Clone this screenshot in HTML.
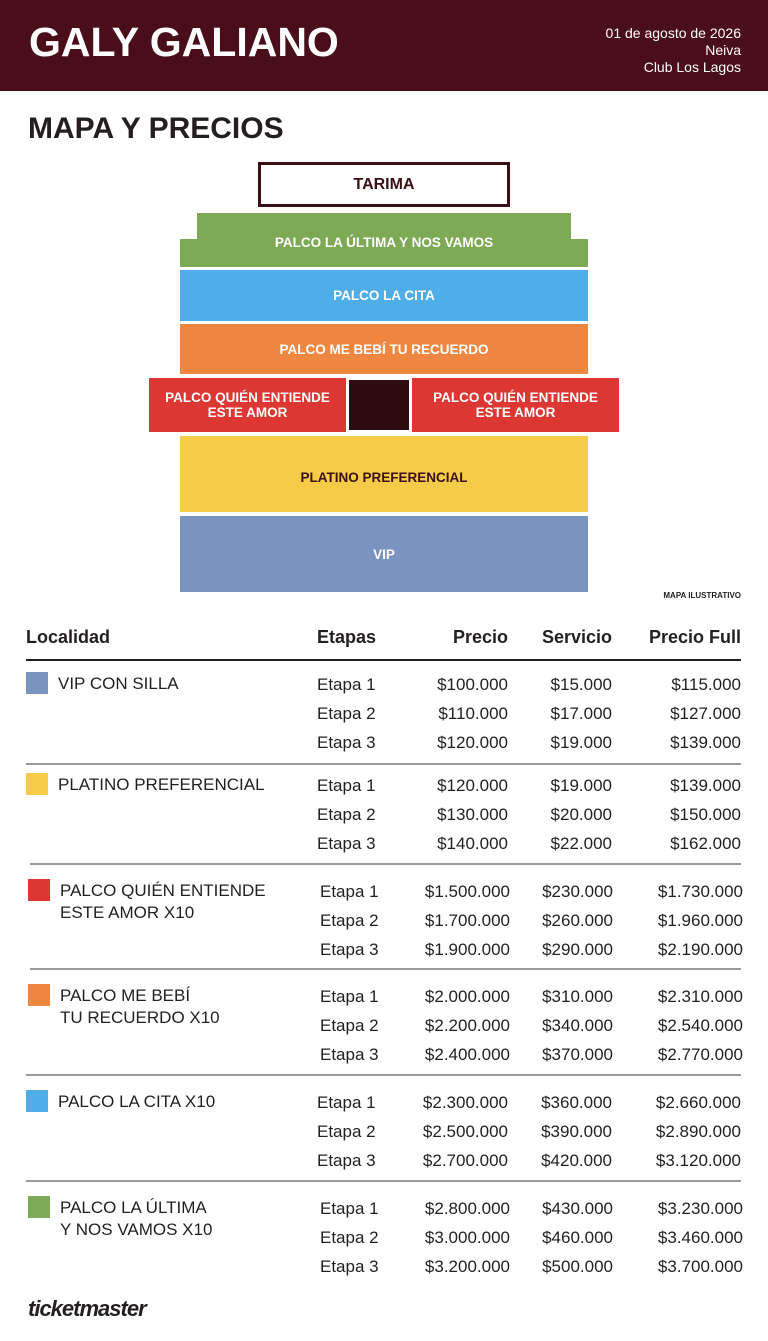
<!DOCTYPE html>
<html><head><meta charset="utf-8"><style>
*{margin:0;padding:0;box-sizing:border-box}
body{width:768px;height:1341px;background:#fff;position:relative;font-family:"Liberation Sans",sans-serif;color:#231f20;overflow:hidden}
.a{position:absolute;white-space:nowrap}
.hd{position:absolute;left:0;top:0;width:768px;height:91px;background:#4a0e1a}
.z{position:absolute;display:flex;align-items:center;justify-content:center;text-align:center;color:#fff;font-weight:bold;font-size:13.5px;line-height:15px}
.t{position:absolute;font-size:17px;line-height:20px;white-space:nowrap}
.r{text-align:right}
.h{font-weight:bold;font-size:18px}
.sq{position:absolute;width:22px;height:22px}
.ln{position:absolute;height:2px;background:#9a9a9a}
</style></head><body>
<div class="hd"></div>
<div class="a" style="left:29px;top:19px;font-size:41px;font-weight:bold;color:#fff">GALY GALIANO</div>
<div class="a r" style="right:27px;top:25px;font-size:14px;line-height:17px;color:#fff;text-align:right">01 de agosto de 2026<br>Neiva<br>Club Los Lagos</div>
<div class="a" style="left:28px;top:112px;font-size:30px;font-weight:bold;color:#231f20">MAPA Y PRECIOS</div>

<div class="a" style="left:258px;top:162px;width:252px;height:45px;border:3px solid #3a0f16;display:flex;align-items:center;justify-content:center;font-weight:bold;font-size:16px;color:#3a0f16">TARIMA</div>
<div class="a" style="left:197px;top:213px;width:374px;height:30px;background:#7eaa56"></div>
<div class="a" style="left:180px;top:239px;width:408px;height:28px;background:#7eaa56"></div>
<div class="z" style="left:180px;top:215px;width:408px;height:54px">PALCO LA ÚLTIMA Y NOS VAMOS</div>
<div class="z" style="left:180px;top:270px;width:408px;height:51px;background:#4faee8">PALCO LA CITA</div>
<div class="z" style="left:180px;top:324px;width:408px;height:50px;background:#ef8741">PALCO ME BEBÍ TU RECUERDO</div>
<div class="z" style="left:149px;top:378px;width:197px;height:54px;background:#dc3732">PALCO QUIÉN ENTIENDE<br>ESTE AMOR</div>
<div class="a" style="left:349px;top:380px;width:60px;height:50px;background:#2e0c12"></div>
<div class="z" style="left:412px;top:378px;width:207px;height:54px;background:#dc3732">PALCO QUIÉN ENTIENDE<br>ESTE AMOR</div>
<div class="z" style="left:180px;top:436px;width:408px;height:76px;background:#f6cb48;color:#3a0f16;padding-top:6px">PLATINO PREFERENCIAL</div>
<div class="z" style="left:180px;top:516px;width:408px;height:76px;background:#7b93bf">VIP</div>
<div class="a" style="right:27px;top:591px;font-size:8px;font-weight:bold">MAPA ILUSTRATIVO</div>

<div class="t h" style="left:26px;top:627px">Localidad</div>
<div class="t h" style="left:317px;top:627px">Etapas</div>
<div class="t h r" style="right:260px;top:627px">Precio</div>
<div class="t h r" style="right:156px;top:627px">Servicio</div>
<div class="t h r" style="right:27px;top:627px">Precio Full</div>
<div class="a" style="left:26px;top:659px;width:715px;height:2px;background:#231f20"></div>

<div class="sq" style="left:26px;top:672px;background:#7b93bf"></div>
<div class="t" style="left:58px;top:674px">VIP CON SILLA</div>
<div class="t" style="left:317px;top:670px;line-height:29px">Etapa 1<br>Etapa 2<br>Etapa 3</div>
<div class="t r" style="right:260px;top:670px;line-height:29px">$100.000<br>$110.000<br>$120.000</div>
<div class="t r" style="right:156px;top:670px;line-height:29px">$15.000<br>$17.000<br>$19.000</div>
<div class="t r" style="right:27px;top:670px;line-height:29px">$115.000<br>$127.000<br>$139.000</div>
<div class="ln" style="left:26px;top:763px;width:715px"></div>

<div class="sq" style="left:26px;top:773px;background:#f6cb48"></div>
<div class="t" style="left:58px;top:775px">PLATINO PREFERENCIAL</div>
<div class="t" style="left:317px;top:771px;line-height:29px">Etapa 1<br>Etapa 2<br>Etapa 3</div>
<div class="t r" style="right:260px;top:771px;line-height:29px">$120.000<br>$130.000<br>$140.000</div>
<div class="t r" style="right:156px;top:771px;line-height:29px">$19.000<br>$20.000<br>$22.000</div>
<div class="t r" style="right:27px;top:771px;line-height:29px">$139.000<br>$150.000<br>$162.000</div>
<div class="ln" style="left:30px;top:863px;width:711px"></div>

<div class="sq" style="left:28px;top:879px;background:#dc3732"></div>
<div class="t" style="left:60px;top:880px;line-height:22px">PALCO QUIÉN ENTIENDE<br>ESTE AMOR X10</div>
<div class="t" style="left:320px;top:877px;line-height:29px">Etapa 1<br>Etapa 2<br>Etapa 3</div>
<div class="t r" style="right:258px;top:877px;line-height:29px">$1.500.000<br>$1.700.000<br>$1.900.000</div>
<div class="t r" style="right:155px;top:877px;line-height:29px">$230.000<br>$260.000<br>$290.000</div>
<div class="t r" style="right:25px;top:877px;line-height:29px">$1.730.000<br>$1.960.000<br>$2.190.000</div>
<div class="ln" style="left:30px;top:968px;width:711px"></div>

<div class="sq" style="left:28px;top:984px;background:#ef8741"></div>
<div class="t" style="left:60px;top:985px;line-height:22px">PALCO ME BEBÍ<br>TU RECUERDO X10</div>
<div class="t" style="left:320px;top:982px;line-height:29px">Etapa 1<br>Etapa 2<br>Etapa 3</div>
<div class="t r" style="right:258px;top:982px;line-height:29px">$2.000.000<br>$2.200.000<br>$2.400.000</div>
<div class="t r" style="right:155px;top:982px;line-height:29px">$310.000<br>$340.000<br>$370.000</div>
<div class="t r" style="right:25px;top:982px;line-height:29px">$2.310.000<br>$2.540.000<br>$2.770.000</div>
<div class="ln" style="left:26px;top:1074px;width:715px"></div>

<div class="sq" style="left:26px;top:1090px;background:#4faee8"></div>
<div class="t" style="left:58px;top:1092px">PALCO LA CITA X10</div>
<div class="t" style="left:317px;top:1088px;line-height:29px">Etapa 1<br>Etapa 2<br>Etapa 3</div>
<div class="t r" style="right:260px;top:1088px;line-height:29px">$2.300.000<br>$2.500.000<br>$2.700.000</div>
<div class="t r" style="right:156px;top:1088px;line-height:29px">$360.000<br>$390.000<br>$420.000</div>
<div class="t r" style="right:27px;top:1088px;line-height:29px">$2.660.000<br>$2.890.000<br>$3.120.000</div>
<div class="ln" style="left:26px;top:1180px;width:715px"></div>

<div class="sq" style="left:28px;top:1196px;background:#7eaa56"></div>
<div class="t" style="left:60px;top:1197px;line-height:22px">PALCO LA ÚLTIMA<br>Y NOS VAMOS X10</div>
<div class="t" style="left:320px;top:1194px;line-height:29px">Etapa 1<br>Etapa 2<br>Etapa 3</div>
<div class="t r" style="right:258px;top:1194px;line-height:29px">$2.800.000<br>$3.000.000<br>$3.200.000</div>
<div class="t r" style="right:155px;top:1194px;line-height:29px">$430.000<br>$460.000<br>$500.000</div>
<div class="t r" style="right:25px;top:1194px;line-height:29px">$3.230.000<br>$3.460.000<br>$3.700.000</div>

<div class="a" style="left:28px;top:1296px;font-size:22px;font-weight:bold;font-style:italic;letter-spacing:-1px;color:#231f20">ticketmaster</div>
</body></html>
